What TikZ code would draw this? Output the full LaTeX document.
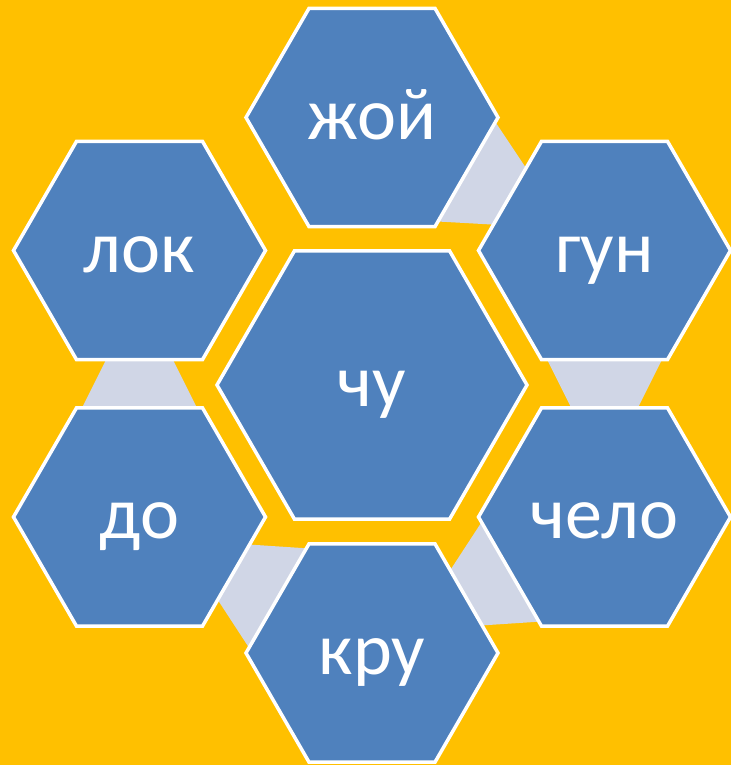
\documentclass[tikz,border=0pt]{standalone}
\usepackage{fontspec}
\setmainfont{Carlito}
\usetikzlibrary{shapes.geometric,calc,backgrounds}
\definecolor{amber}{RGB}{255,192,0}
\definecolor{cellblue}{RGB}{79,129,189}
\definecolor{jointgray}{RGB}{208,214,230}

\begin{document}
\begin{tikzpicture}
[
x=1pt, y=1pt,
Hexagon/.style={regular polygon, regular polygon sides=6, draw=white, fill=cellblue, line width=3.5pt, minimum size=252pt, inner sep=0pt, text=white, font=\fontsize{74}{78}\selectfont, text height=44pt, text depth=0pt},
Hub/.style={Hexagon, minimum size=310pt},
Joint/.style={fill=jointgray, draw=none},
Paper/.style={fill=amber, draw=none},
]

\useasboundingbox (0,0) rectangle (731,765);

\node[Hub] (chu) at (372,380) {чу};

\node[Hexagon] (zhoy) at (372,647.5) {жой};
\node[Hexagon] (gun) at (604.5,514.5) {гун};
\node[Hexagon] (chelo) at (604.5,248) {чело};
\node[Hexagon] (kru) at (372,112) {кру};
\node[Hexagon] (do) at (139.5,248) {до};
\node[Hexagon] (lok) at (139.5,514.5) {лок};

% links between the outer cells, wide end first
\begin{pgfonlayer}{background}
\fill[Paper] (0,0) rectangle (731,765);
\foreach \a/\b in {zhoy/gun, gun/chelo, chelo/kru, kru/do, do/lok}
  \fill[Joint] ($($(\a)!74pt!(\b)$)!75pt!90:(\b)$)
    -- ($($(\a)!194pt!(\b)$)!15pt!90:(\b)$)
    -- ($($(\a)!194pt!(\b)$)!15pt!-90:(\b)$)
    -- ($($(\a)!74pt!(\b)$)!75pt!-90:(\b)$) -- cycle;
\end{pgfonlayer}

\end{tikzpicture}
\end{document}
